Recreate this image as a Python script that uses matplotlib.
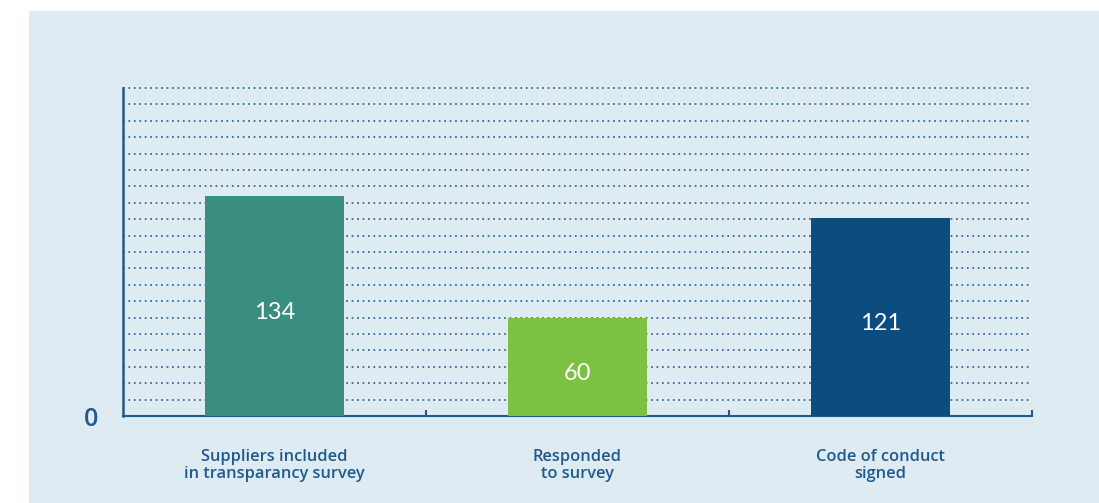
import matplotlib.pyplot as plt
from matplotlib.patches import Rectangle

# data
categories = ["Suppliers included\nin transparancy survey", "Responded\nto survey", "Code of conduct\nsigned"]
values = [134, 60, 121]
bar_colors = ["#3A8E7F", "#7DC142", "#0B4D7E"]

panel_color = "#DFEBF2"
text_color = "#1F5A8C"
grid_color = "#3D74A3"

W, H = 1099, 503
fig = plt.figure(figsize=(W / 100, H / 100), dpi=100)
fig.patch.set_facecolor("white")

# light blue panel behind the chart
fig.add_artist(Rectangle((29 / W, 0), 1 - 29 / W, (H - 11) / H,
                         transform=fig.transFigure, facecolor=panel_color,
                         edgecolor="none", zorder=-10))

ax = fig.add_axes([123 / W, (H - 416) / H, 909 / W, (416 - 88) / H])
ax.set_facecolor("none")
ax.set_zorder(1)

x = list(range(len(values)))
ax.bar(x, values, width=0.46, color=bar_colors, zorder=3)

for xi, v in zip(x, values):
    ax.text(xi, v / 2 - 4, str(v), ha="center", va="center", color="white",
            fontsize=17, family="Lato", zorder=4)

ax.set_xlim(-0.5, 2.5)
ax.set_ylim(0, 200)

# dotted gridlines every 10
ax.set_yticks(range(0, 201, 10))
ax.set_yticklabels(["0"] + [""] * 20, family="Open Sans", fontweight="semibold")
ax.tick_params(axis="y", length=0, pad=18, labelsize=18, labelcolor=text_color)
ax.yaxis.grid(True, linestyle=(0, (0.9, 1.9)), linewidth=1.4, color=grid_color, zorder=1)
for gl in ax.get_ygridlines():
    gl.set_clip_on(False)
ax.set_axisbelow(True)

# category labels and separator ticks
ax.set_xticks(x)
ax.set_xticklabels(categories, fontsize=11.8, color=text_color, family="Open Sans",
                   fontweight="semibold", linespacing=1.15)
ax.tick_params(axis="x", which="major", length=0, pad=23.5)
ax.set_xticks([0.5, 1.5, 2.5], minor=True)
ax.tick_params(axis="x", which="minor", direction="in", length=4, width=1.5, color=text_color)

for side in ["top", "right"]:
    ax.spines[side].set_visible(False)
ax.spines["left"].set_color(text_color)
ax.spines["left"].set_linewidth(1.8)
ax.spines["bottom"].set_color(text_color)
ax.spines["bottom"].set_linewidth(1.5)

fig.savefig("out.png", dpi=100)
